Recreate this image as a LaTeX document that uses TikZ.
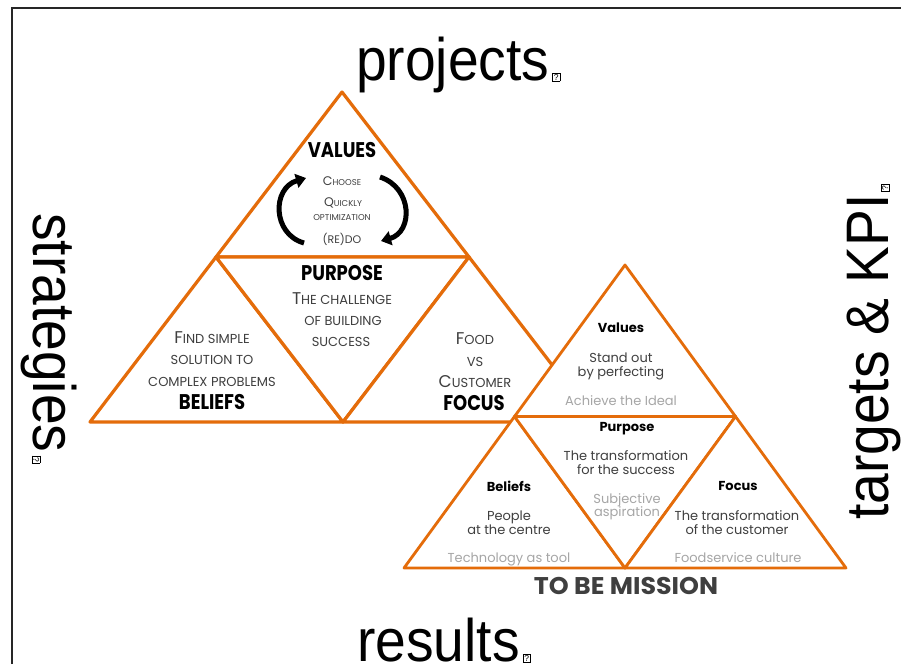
\documentclass[tikz,border=0pt]{standalone}
\usepackage{fontspec}
\setmainfont{Poppins}
\newfontfamily\arialf{Liberation Sans}
\usetikzlibrary{arrows.meta}
\definecolor{org}{HTML}{E46C0A}
\definecolor{txt}{HTML}{3F3F3F}
\definecolor{lite}{HTML}{A6A6A6}
\newcommand\qbox{\hspace{3pt}{\fboxsep=0.8pt\fboxrule=0.7pt\fbox{\arialf\fontsize{8.5}{8.5}\selectfont ?}}}
\newcommand\lsc[1]{{\fontsize{13}{13}\selectfont\MakeUppercase{#1}}}
\newcommand\vsc[1]{{\fontsize{8.5}{8.5}\selectfont\MakeUppercase{#1}}}
\newcommand\tallhd[1]{\scalebox{1}[1.18]{#1}}
\begin{document}
\begin{tikzpicture}[x=1pt,y=-1pt,
  bigtri/.style={draw=org,line width=3.2pt,fill=white,line join=round},
  smalltri/.style={draw=org,line width=2.8pt,fill=white,line join=round},
  head/.style={font=\fontsize{18}{18}\selectfont\bfseries,text=black,anchor=base,inner sep=0pt},
  body/.style={font=\fontsize{17}{17}\selectfont,text=txt,anchor=base,inner sep=0pt},
  vbody/.style={font=\fontsize{12.5}{12.5}\selectfont,text=txt,anchor=base,inner sep=0pt},
  shead/.style={font=\fontsize{13}{13}\selectfont\bfseries,text=black,anchor=base,inner sep=0pt},
  sbody/.style={font=\fontsize{13}{13}\selectfont,text=txt,anchor=base,inner sep=0pt},
  slite/.style={font=\fontsize{13}{13}\selectfont,text=lite,anchor=base,inner sep=0pt},
  side/.style={font=\arialf\fontsize{60}{60}\selectfont,text=black,inner sep=0pt,anchor=base west},
  cyc/.style={line width=5pt,-{Triangle[width=14pt,length=10pt]}}]
\useasboundingbox (0,0) rectangle (901,664);
\fill[white] (0,0) rectangle (901,664);
% frame
\draw[line width=1.6pt,black!85] (12,664) -- (12,8) -- (901,8);
% big structure vertices
\coordinate (A) at (342,92);
\coordinate (BL) at (90,422);
\coordinate (BR) at (596,422);
\coordinate (ML) at (216,257);
\coordinate (MR) at (469,257);
\coordinate (MB) at (343,422);
\draw[bigtri] (A) -- (MR) -- (ML) -- cycle;
\draw[bigtri] (ML) -- (MB) -- (BL) -- cycle;
\draw[bigtri] (ML) -- (MR) -- (MB) -- cycle;
\draw[bigtri] (MR) -- (BR) -- (MB) -- cycle;
% small structure
\coordinate (a) at (625,265);
\coordinate (bl) at (404,568);
\coordinate (br) at (846,568);
\coordinate (ml) at (514.5,416.5);
\coordinate (mr) at (735.5,416.5);
\coordinate (mb) at (625,568);
\draw[smalltri] (a) -- (mr) -- (ml) -- cycle;
\draw[smalltri] (ml) -- (mb) -- (bl) -- cycle;
\draw[smalltri] (ml) -- (mr) -- (mb) -- cycle;
\draw[smalltri] (mr) -- (br) -- (mb) -- cycle;
% side labels
\node[side] (proj) at (356,80) {\scalebox{0.92}[1]{projects}\qbox};
\node[side] (res) at (357,661) {\scalebox{0.92}[1]{results}\qbox};
\node[side,rotate=-90] (strat) at (33,213) {\scalebox{0.92}[1]{strategies}\qbox};
\node[side,rotate=90] (tkpi) at (888,520) {\scalebox{0.92}[1]{targets \& KPI}\qbox};
% VALUES triangle
\node[head] (values) at (342,157) {\tallhd{VALUES}};
\node[vbody] (v1) at (342,185) {C\vsc{hoose}};
\node[vbody] (v2) at (343,206) {Q\vsc{uickly}};
\node[vbody] (v3) at (342,220) {\vsc{optimization}};
\node[vbody] (v4) at (342,243) {{\fontsize{11}{11}\selectfont (RE)DO}};
\draw[cyc] (304,243) .. controls (272,234) and (272,188) .. (306,178);
\draw[cyc] (380,177) .. controls (413,188) and (413,232) .. (381,241);
% PURPOSE
\node[head] (purpose) at (342,280) {\tallhd{PURPOSE}};
\node[body] (p1) at (342,304) {T\lsc{he challenge}};
\node[body] (p2) at (343,325) {\lsc{of building}};
\node[body] (p3) at (341,346) {\lsc{success}};
% BELIEFS
\node[body] (b1) at (212,343) {F\lsc{ind simple}};
\node[body] (b2) at (212,364) {\lsc{solution to}};
\node[body] (b3) at (212,386) {\lsc{complex problems}};
\node[head] (beliefs) at (212,409) {\tallhd{BELIEFS}};
% FOCUS
\node[body] (f1) at (475,344) {F\lsc{ood}};
\node[body] (f2) at (475,366) {\lsc{vs}};
\node[body] (f3) at (475,387) {C\lsc{ustomer}};
\node[head] (focus) at (474,410) {\tallhd{FOCUS}};
% small: Values
\node[shead] (sv) at (621,332) {Values};
\node[sbody] (sv1) at (621,362) {Stand out};
\node[sbody] (sv2) at (621,376) {by perfecting};
\node[slite] (sv3) at (621,405) {Achieve the Ideal};
% small: Purpose
\node[shead] (sp) at (627,431) {Purpose};
\node[sbody] (sp1) at (626,460) {The transformation};
\node[sbody] (sp2) at (626,474) {for the success};
\node[slite] (sp3) at (627,503) {Subjective};
\node[slite] (sp4) at (627,516) {aspiration};
% small: Beliefs
\node[shead] (sb) at (509,491) {Beliefs};
\node[sbody] (sb1) at (509,520) {People};
\node[sbody] (sb2) at (509,534) {at the centre};
\node[slite] (sb3) at (509,562) {Technology as tool};
% small: Focus
\node[shead] (sf) at (738,490) {Focus};
\node[sbody] (sf1) at (737,520) {The transformation};
\node[sbody] (sf2) at (737,534) {of the customer};
\node[slite] (sf3) at (738,562) {Foodservice culture};
% mission
\node[font=\fontsize{23}{23}\selectfont\bfseries,text=txt,anchor=base,inner sep=0pt] (mission) at (626,594) {\scalebox{1.1}[1.05]{TO BE MISSION}};
\end{tikzpicture}
\end{document}
